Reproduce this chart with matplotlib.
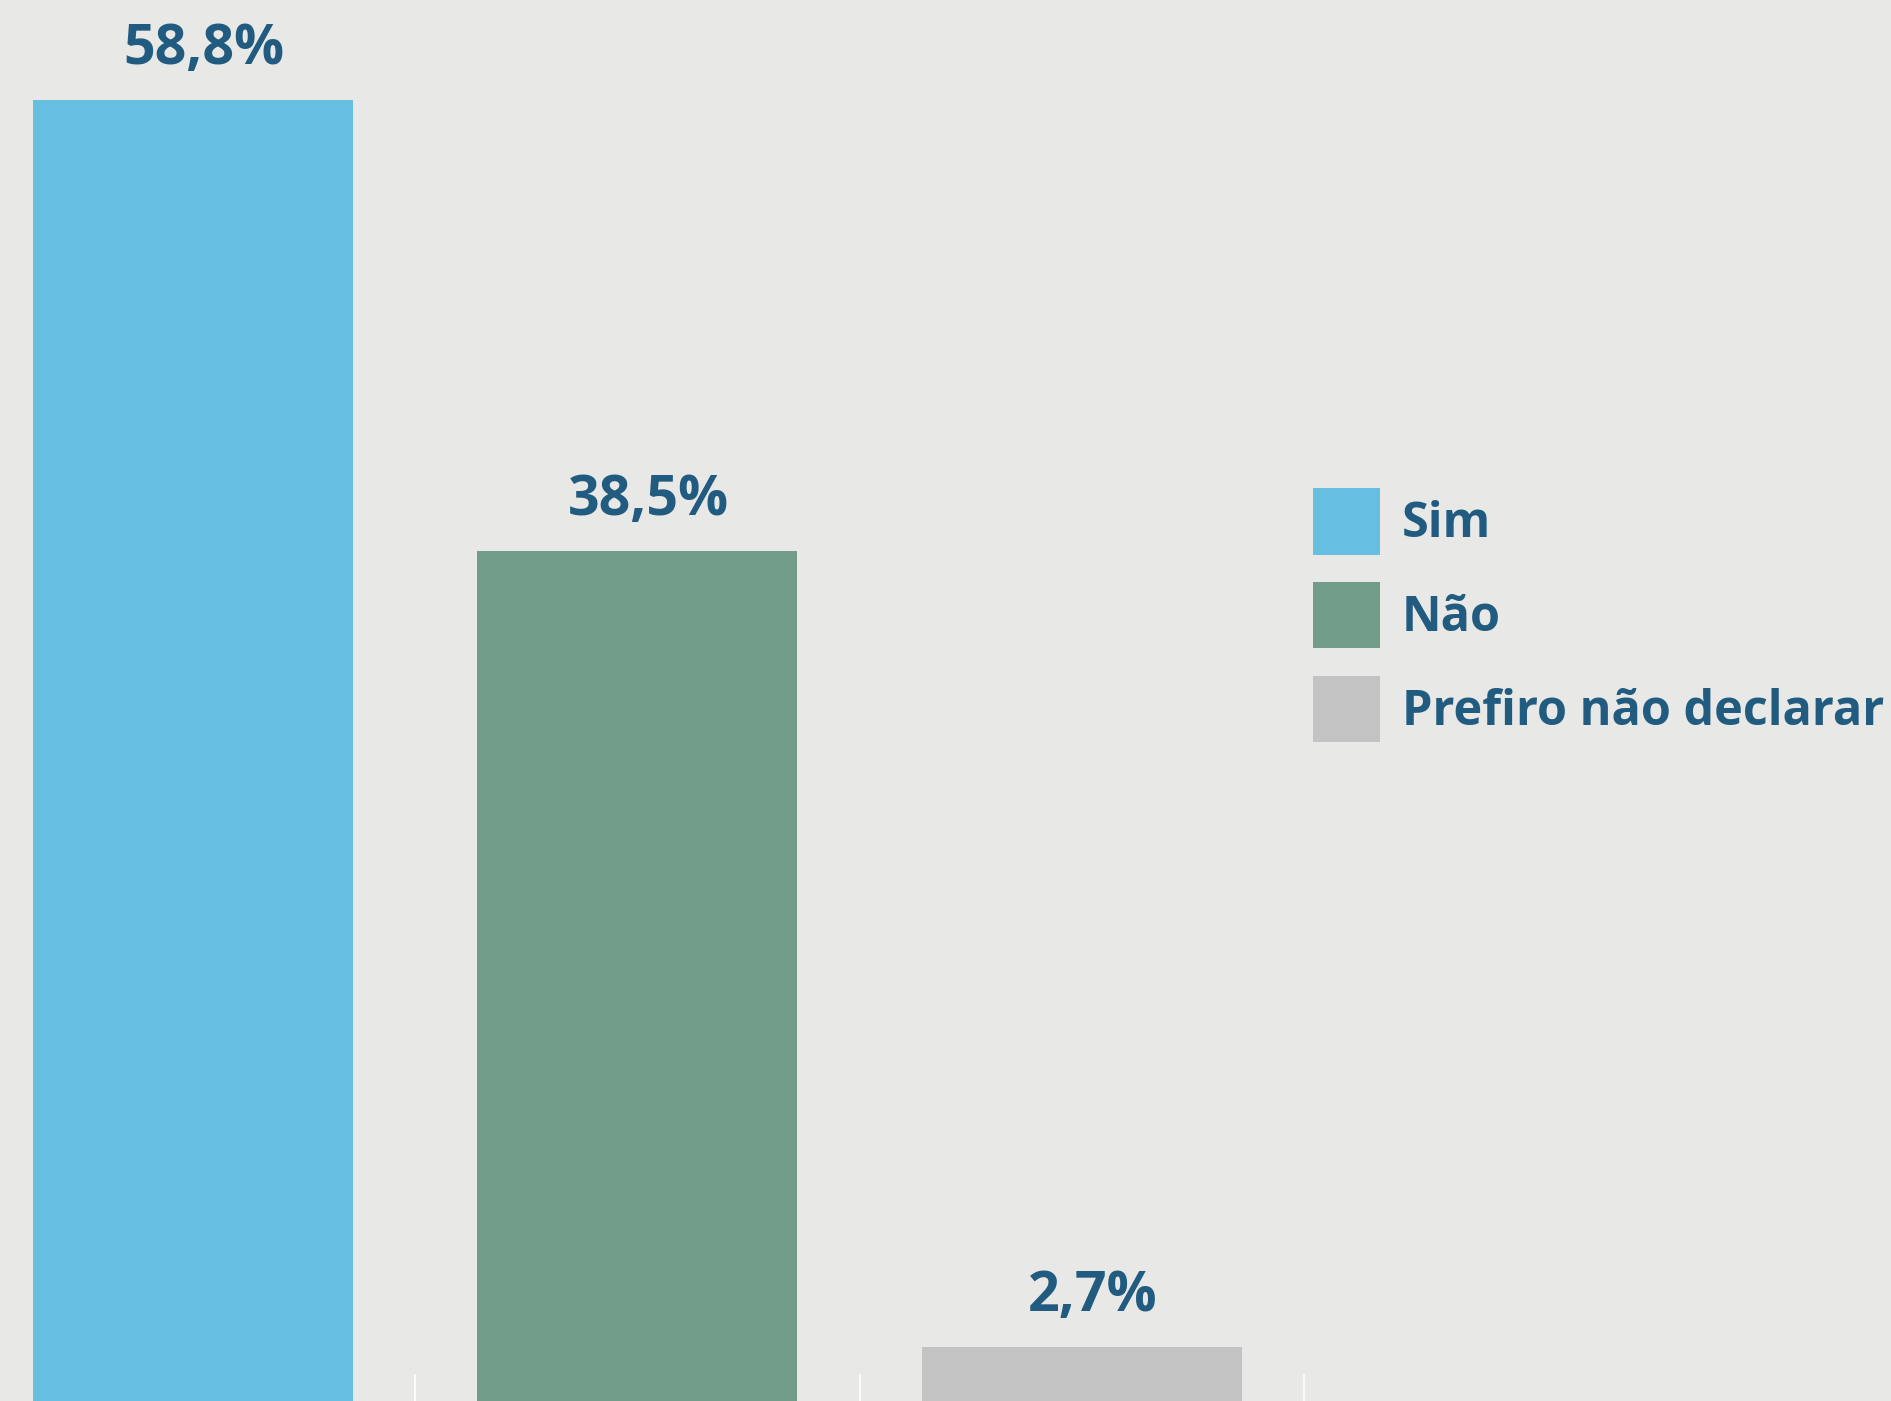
import numpy as np
import matplotlib
matplotlib.use('Agg')
import matplotlib.pyplot as plt
from matplotlib.patches import Patch

plt.rcParams['font.family'] = ['Open Sans', 'DejaVu Sans']

# dados
categorias = ['Sim', 'Não', 'Prefiro não declarar']
valores = [58.8, 38.5, 2.7]
rotulos = ['58,8%', '38,5%', '2,7%']
cores = ['#66bee0', '#709c88', '#c2c3c2']

fundo = '#e8e8e6'
cor_texto = '#215b80'

fig = plt.figure(figsize=(18.91, 14.01), dpi=100, facecolor=fundo)
ax = fig.add_axes([0, 0, 1, 1])
ax.set_facecolor(fundo)

x = np.arange(len(categorias))
ax.bar(x, valores, width=0.72, color=cores, zorder=2)

# pequenas marcas brancas nos limites das categorias
ax.vlines(x + 0.5, 0, 1.48, color='white', lw=1.2, zorder=1)

# rótulos em cima das barras
for xi, v, r in zip(x, valores, rotulos):
    ax.annotate(r, (xi, v), xytext=(8, 26), textcoords='offset points',
                ha='center', va='baseline', fontsize=40, fontweight='bold',
                color=cor_texto)

ax.set_xlim(-0.434, 3.82)
ax.set_ylim(0.27, 63.3)
ax.axis('off')

# legenda
handles = [Patch(facecolor=c, edgecolor='none', label=l) for c, l in zip(cores, categorias)]
leg = ax.legend(handles=handles, loc='upper left',
                bbox_to_anchor=(1313 / 1891, 1 - 488 / 1401),
                bbox_transform=fig.transFigure,
                frameon=False, borderpad=0, borderaxespad=0,
                handlelength=1.37, handleheight=1.73, handletextpad=0.46,
                labelspacing=0.56, prop={'size': 35, 'weight': 'bold'})
for t in leg.get_texts():
    t.set_color(cor_texto)

fig.savefig('out.png', dpi=100, facecolor=fundo)
